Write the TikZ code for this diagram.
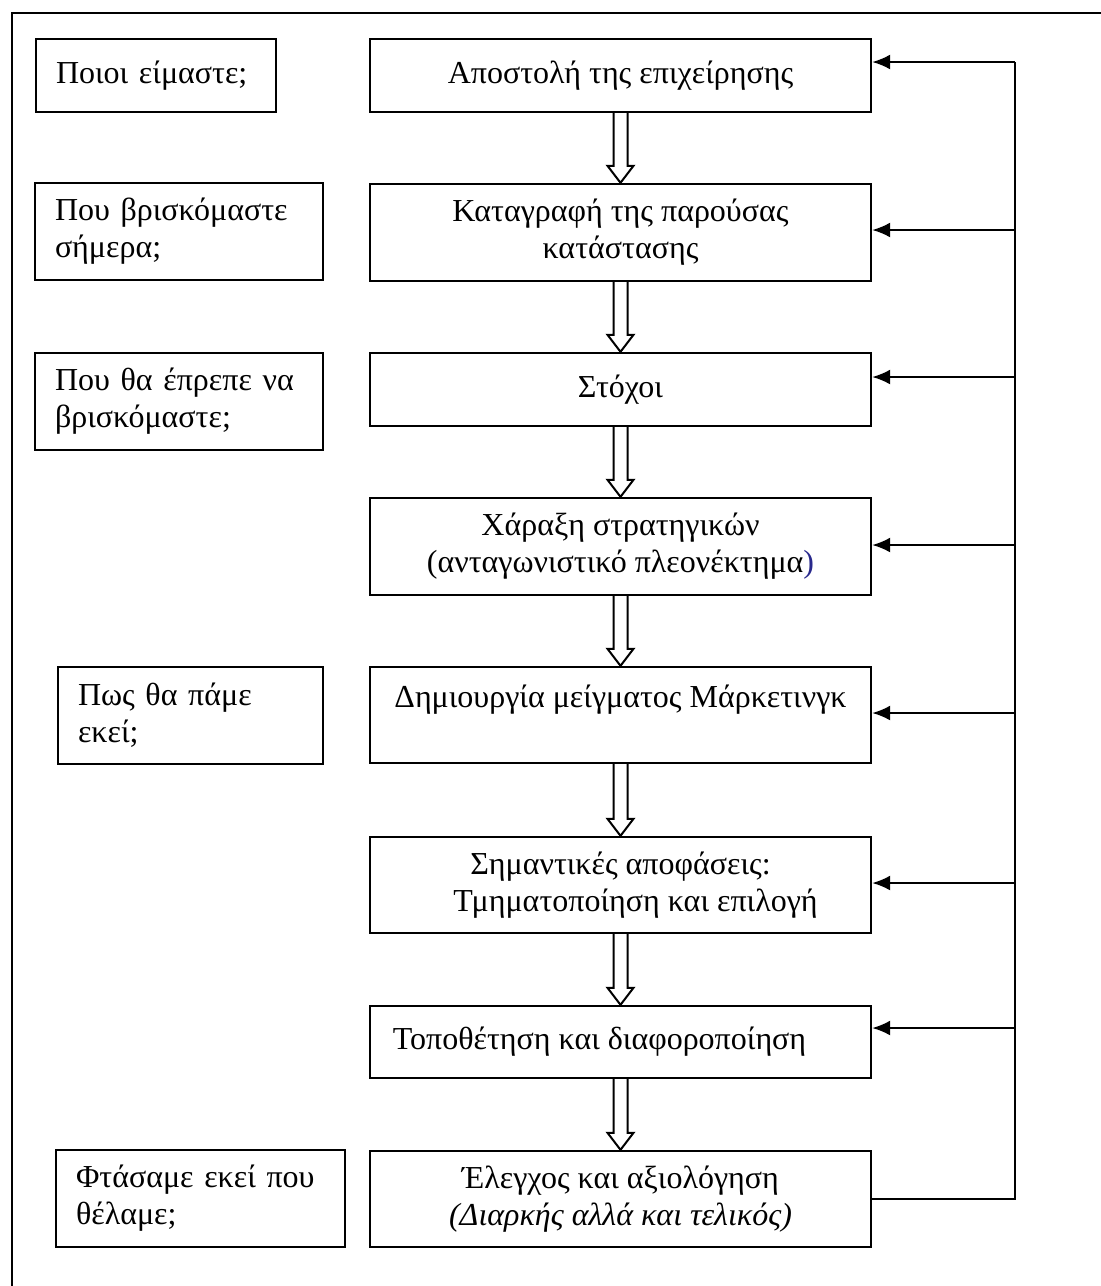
\documentclass[tikz,border=0pt]{standalone}
\usepackage{fontspec}
\setmainfont{Liberation Serif}
\usetikzlibrary{arrows.meta,calc}
\definecolor{parenblue}{RGB}{40,40,140}

\tikzset{
	stage/.style={draw, line width=2.4pt, minimum width=501pt, align=center, inner sep=0pt},
	question/.style={draw, line width=2.4pt, align=left, inner xsep=20pt, inner ysep=0pt},
	hollow/.style={line width=2pt, line join=miter},
	feedback/.style={line width=2pt}
}

\begin{document}
\begin{tikzpicture}[x=1pt, y=-1pt, font=\fontsize{32}{37}\selectfont, >={Latex[length=18pt,width=15pt]}]
		\useasboundingbox (0,0) rectangle (1101,1286);
		\draw[line width=2.4pt](1101,13) -- (12,13) -- (12,1286);
		% questions on the left
		\node[question, text width=200pt, minimum height=73pt] (q1) at (156,75.5) {Ποιοι είμαστε;};
		\node[question, text width=248pt, minimum height=97pt] (q2) at (179,231.5) {Που βρισκόμαστε\\σήμερα;};
		\node[question, text width=248pt, minimum height=97pt] (q3) at (179,401.5) {Που θα έπρεπε να\\βρισκόμαστε;};
		\node[question, text width=225pt, minimum height=97pt] (q4) at (190.5,715.5) {Πως θα πάμε\\εκεί;};
		\node[question, text width=249pt, minimum height=97pt] (q5) at (200.5,1198.5) {Φτάσαμε εκεί που\\θέλαμε;};
		% stages in the middle
		\node[stage, minimum height=73pt] (s1) at (620.5,75.5) {Αποστολή της επιχείρησης};
		\node[stage, minimum height=97pt] (s2) at (620.5,232.5) {Καταγραφή της παρούσας\\κατάστασης};
		\node[stage, minimum height=73pt] (s3) at (620.5,389.5) {Στόχοι};
		\node[stage, minimum height=97pt] (s4) at (620.5,546.5) {Χάραξη στρατηγικών\\(ανταγωνιστικό πλεονέκτημα\textcolor{parenblue}{)}};
		\node[stage, minimum height=96pt] (s5) at (620.5,715) {Δημιουργία μείγματος Μάρκετινγκ\\\mbox{}};
		\node[stage, minimum height=96pt] (s6) at (620.5,885) {Σημαντικές αποφάσεις:\\\hspace*{30pt}Τμηματοποίηση και επιλογή};
		\node[stage, minimum height=72pt] (s7) at (620.5,1042) {Τοποθέτηση και διαφοροποίηση\hspace*{42pt}};
		\node[stage, minimum height=96pt] (s8) at (620.5,1199) {Έλεγχος και αξιολόγηση\\\textit{(Διαρκής αλλά και τελικός)}};
		% hollow arrows
		\foreach \a/\b in {s1/s2, s2/s3, s3/s4, s4/s5, s5/s6, s6/s7, s7/s8}
			\draw[hollow]($(\a.south)+(-7,0)$) -- ($(\b.north)+(-7,-17)$) -- ($(\b.north)+(-13,-17)$) -- (\b.north)
				-- ($(\b.north)+(13,-17)$) -- ($(\b.north)+(7,-17)$) -- ($(\a.south)+(7,0)$);
		% feedback
		\foreach \n/\y in {1/62, 2/230, 3/377, 4/545, 5/713, 6/883, 7/1028}{
			\coordinate (b\n) at (1015,\y);
			\draw[feedback, ->](b\n) -- (b\n -| s\n.east);
		}
		\draw[feedback](s8.east) -- (s8.east -| b1) -- (b1);
	\end{tikzpicture}
\end{document}
